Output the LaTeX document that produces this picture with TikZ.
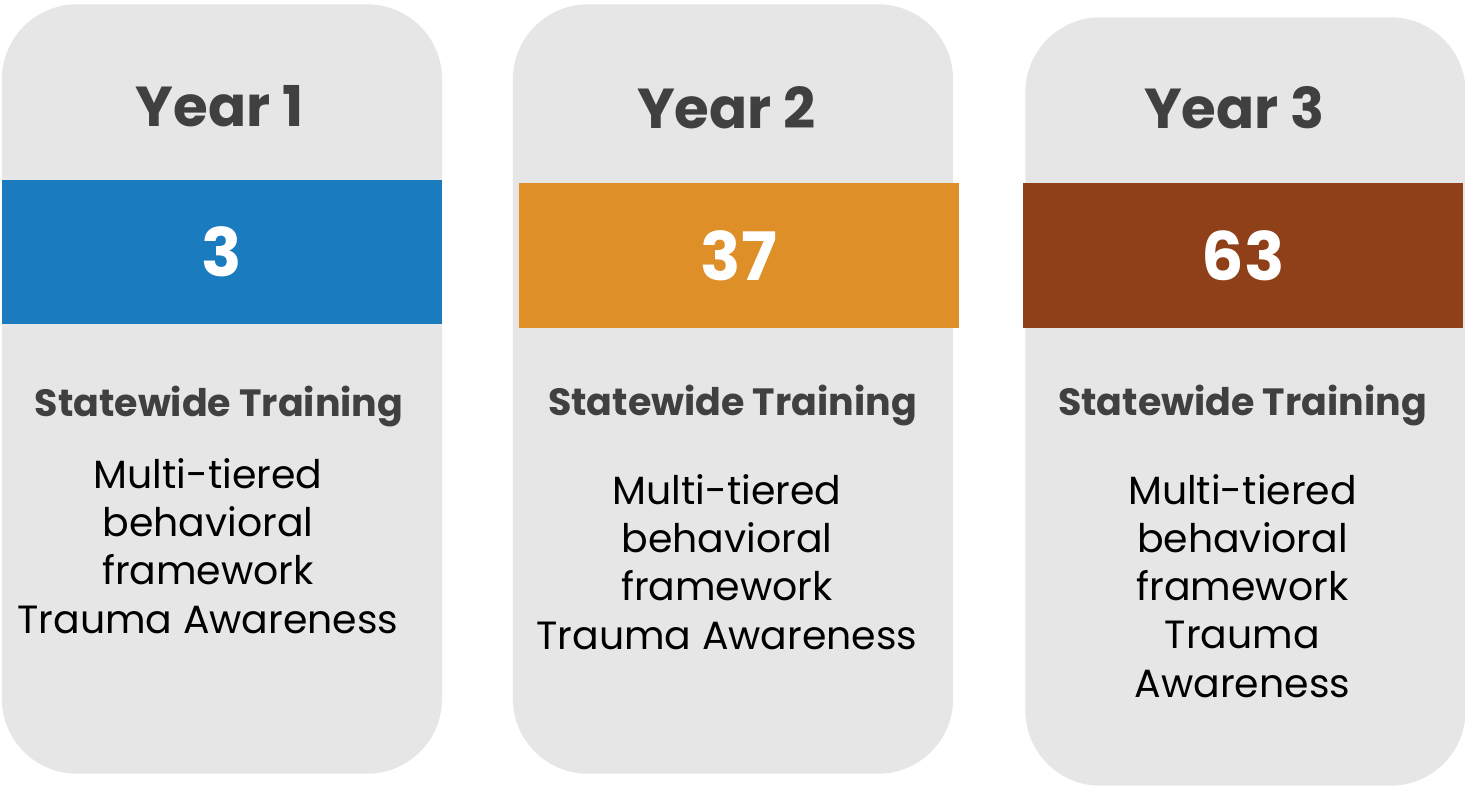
\documentclass[tikz,border=0pt]{standalone}
\usepackage{fontspec}
\setmainfont{Poppins}
\usetikzlibrary{positioning}

\definecolor{cardgray}{HTML}{E6E6E6}
\definecolor{titlegray}{HTML}{404040}
\definecolor{yearone}{HTML}{1A7BBF}
\definecolor{yeartwo}{HTML}{DE8F27}
\definecolor{yearthree}{HTML}{8F4018}

\begin{document}
\begin{tikzpicture}[x=0.01cm, y=-0.01cm,
card_style/.style={rectangle, fill=cardgray, draw=none, rounded corners=0.75cm, minimum width=4.4cm, minimum height=7.69cm, inner sep=0pt},
band_style/.style={rectangle, draw=none, minimum width=4.4cm, minimum height=1.45cm, inner sep=0pt, text=white, font=\fontsize{19}{19}\selectfont\bfseries},
year_style/.style={anchor=base, text=titlegray, inner sep=0pt, font=\fontsize{16}{16}\selectfont\bfseries},
head_style/.style={anchor=base, text=titlegray, inner sep=0pt, font=\fontsize{10.8}{10.8}\selectfont\bfseries},
body_style/.style={anchor=base, align=center, inner sep=0pt, text=black, font=\fontsize{11.2}{13.66}\selectfont},
]

\useasboundingbox (0,0) rectangle (1465,787);

	% grey cards
	\node[card_style] (cardi) at (222,389) {};
	\node[card_style] (cardii) at (733,389) {};
	\node[card_style, minimum height=7.68cm] (cardiii) at (1245.5,401.5) {};

	% coloured bands with the counts
	\node[band_style, fill=yearone, minimum height=1.44cm] (bandi) at (222,252) {3};
	\node[band_style, fill=yeartwo] (bandii) at (739,255.5) {37};
	\node[band_style, fill=yearthree] (bandiii) at (1243,255.5) {63};

	% titles
	\node[year_style] (yeari) at (219.5,126) {Year 1};
	\node[year_style] (yearii) at (726.5,128) {Year 2};
	\node[year_style] (yeariii) at (1234.5,128) {Year 3};

	\node[head_style] (headi) at (219,416) {Statewide Training};
	\node[head_style] (headii) at (732.5,415) {Statewide Training};
	\node[head_style] (headiii) at (1242.5,415) {Statewide Training};

	% body text, placed at the baseline of its last line
	\node[body_style] (bodyi) at (208,633) {Multi-tiered\\behavioral\\framework\\Trauma Awareness};
	\node[body_style] (bodyii) at (727,649) {Multi-tiered\\behavioral\\framework\\Trauma Awareness};
	\node[body_style] (bodyiii) at (1242.5,697) {Multi-tiered\\behavioral\\framework\\Trauma\\Awareness};

\end{tikzpicture}
\end{document}
